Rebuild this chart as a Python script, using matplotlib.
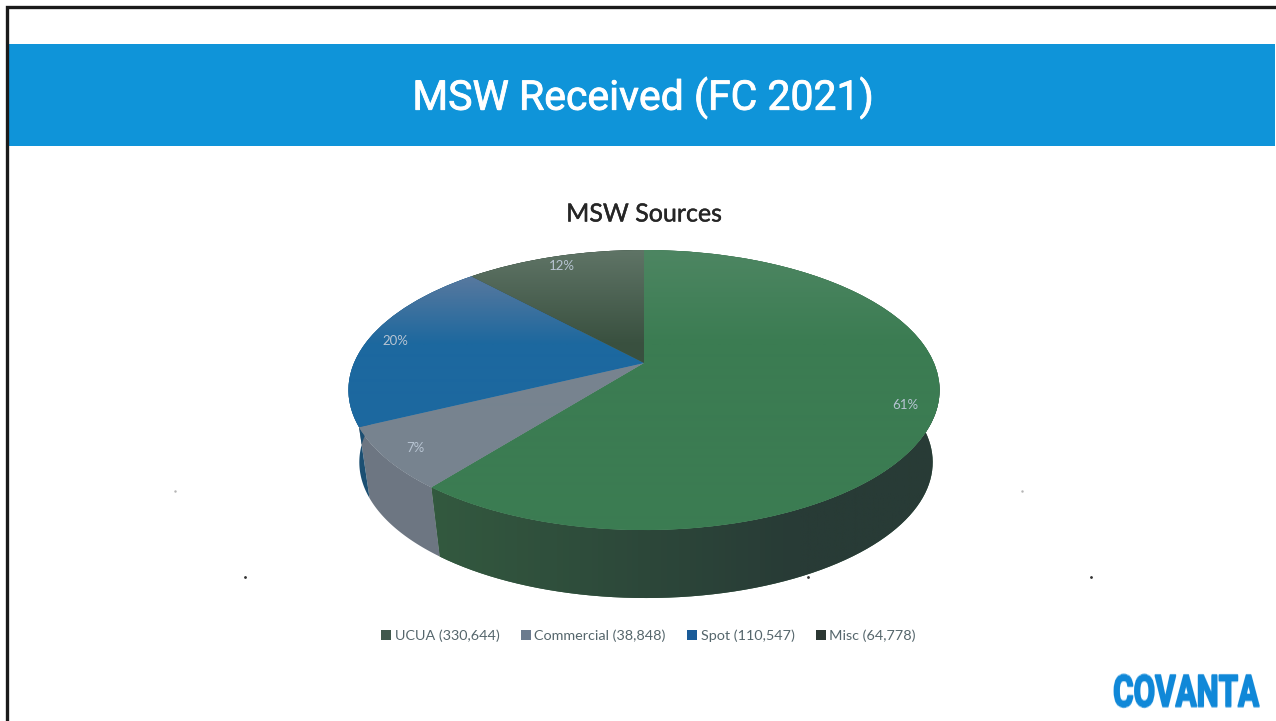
import numpy as np
import matplotlib
matplotlib.use('Agg')
import matplotlib.pyplot as plt
import matplotlib.patheffects as pe
from matplotlib.colors import to_rgb
from matplotlib.patches import Polygon, Rectangle
from matplotlib.transforms import Transform

# data
sources = ['UCUA', 'Commercial', 'Spot', 'Misc']
tons = [330644, 38848, 110547, 64778]

title = 'MSW Received (FC 2021)'
chart_title = 'MSW Sources'
logo = 'COVANTA'

# colours
top_colors = ['#3b7c52', '#77838f', '#1c689f', '#39503f']
top_fade = ['#4d8662', '#8a93a0', '#6f7f9e', '#5f7466']
wall_left = ['#33593f', '#6d7682', '#1c4f72', '#33423a']
wall_right = ['#283b36', '#6b7585', '#1c4f72', '#33423a']
legend_colors = ['#41584d', '#6b7b8e', '#1a5b98', '#2c3833']

# geometry of the tilted pie, in pixels
cx, cy = 644, 363
rx, ry, k = 290, 134.8, 0.193
wall_scale, wall_drop, wall_shift = 0.97, 73, 2


class Tilt(Transform):
    input_dims = 2
    output_dims = 2
    is_separable = False
    has_inverse = False

    def transform_non_affine(self, values):
        values = np.asarray(values, dtype=float)
        s = 1 / (1 + k * values[:, 1])
        return np.column_stack([cx + rx * values[:, 0] * s, cy - ry * values[:, 1] * s])


def rim(theta, lower=False):
    # theta runs clockwise from 12 o'clock
    pts = tilt.transform(np.column_stack([np.sin(theta), np.cos(theta)]))
    if lower:
        pts = np.column_stack([cx + wall_shift + wall_scale * (pts[:, 0] - cx),
                               cy + wall_drop + wall_scale * (pts[:, 1] - cy)])
    return pts


def gradient(c0, c1, horizontal=False, n=64):
    c0, c1 = np.array(to_rgb(c0)), np.array(to_rgb(c1))
    t = np.linspace(0, 1, n)[:, None]
    img = c0 * (1 - t) + c1 * t
    return img[None, :, :] if horizontal else img[:, None, :]


def stretch_tall(img, dpi, factor=1.42):
    # the logo face is condensed, no installed font is, so pull the glyphs upward
    h = img.shape[0]
    new_h = int(h * factor)
    rows = np.linspace(0, h - 1, new_h)
    lo = rows.astype(int)
    hi = np.minimum(lo + 1, h - 1)
    f = (rows - lo)[:, None, None]
    return img[lo] * (1 - f) + img[hi] * f, 0, -(new_h - h) // 2


tilt = Tilt()

plt.rcParams['font.family'] = ['Lato', 'DejaVu Sans']
fig = plt.figure(figsize=(12.76, 7.21), dpi=100)
ax = fig.add_axes([0, 0, 1, 1])

wedges, _, autotexts = ax.pie(tons, startangle=90, counterclock=False, colors=top_colors,
                              autopct='%.0f%%', pctdistance=0.9, labeldistance=None,
                              wedgeprops=dict(linewidth=0, zorder=4),
                              textprops=dict(fontsize=9.5, color='#b7c4d2', zorder=6))
ax.set_aspect('auto')

# top of the pie, shaded towards the back
for w, c0, c1 in zip(wedges, top_fade, top_colors):
    w.set_transform(tilt + ax.transData)
    im = ax.imshow(gradient(c0, c1), extent=[340, 950, 345, 250], aspect='auto', zorder=4.5)
    im.set_clip_path(w)
    im2 = ax.imshow(gradient(c1, c1), extent=[340, 950, 540, 345], aspect='auto', zorder=4.5)
    im2.set_clip_path(w)
for t in autotexts:
    t.set_transform(tilt + ax.transData)

# side wall, drawn under the top
edges = 2 * np.pi * np.cumsum([0] + tons) / np.sum(tons)
for i in range(len(tons)):
    theta = np.linspace(edges[i], edges[i + 1], 120)
    outline = np.vstack([rim(theta), rim(theta, lower=True)[::-1]])
    wall = Polygon(outline, closed=True, facecolor=wall_left[i], edgecolor='none', zorder=2)
    ax.add_patch(wall)
    if i == 1:
        continue
    im = ax.imshow(gradient(wall_left[i], wall_right[i], horizontal=True),
                   extent=[430, 800, 610, 380], aspect='auto', zorder=3)
    im.set_clip_path(wall)
    im = ax.imshow(gradient(wall_right[i], wall_right[i], horizontal=True),
                   extent=[800, 950, 610, 380], aspect='auto', zorder=3)
    im.set_clip_path(wall)

# banner and scan frame
ax.add_patch(Rectangle((8, 44), 1267, 102, facecolor='#0f94d9', edgecolor='none', zorder=1))
ax.plot([6.5, 6.5, 1276], [721, 6.5, 6.5], color='#1a1a1a', lw=2.4, zorder=7,
        solid_joinstyle='miter')
ax.text(643, 98, title, color='white', fontsize=29.5, family=['Roboto', 'DejaVu Sans'],
        ha='center', va='center', zorder=7,
        path_effects=[pe.withStroke(linewidth=0.6, foreground='white')])
ax.text(644, 214, chart_title, color='#262626', fontsize=18, ha='center', va='center', zorder=7,
        path_effects=[pe.withStroke(linewidth=0.3, foreground='#262626')])

# logo
ax.text(1186, 693, logo, color='#1088d8', fontsize=22.5, fontweight='bold',
        family=['Roboto', 'DejaVu Sans'], ha='center', va='center', zorder=7,
        path_effects=[pe.withStroke(linewidth=1.2, foreground='#1088d8')],
        agg_filter=stretch_tall)

# specks from the scan
ax.plot([245, 808, 1091], [577, 577, 577], ls='none', marker='.', ms=2, color='#333333', zorder=7)
ax.plot([175, 1022], [491, 491], ls='none', marker='.', ms=1.5, color='#b5b5b5', zorder=7)

labels = [f'{s} ({v:,})' for s, v in zip(sources, tons)]
leg = ax.legend(wedges, labels, ncol=4, loc='center', frameon=False,
                bbox_to_anchor=(648.5 / 1276, 1 - 636 / 721),
                fontsize=10.4, labelcolor='#55666c', handlelength=0.7, handleheight=0.7,
                handletextpad=0.25, columnspacing=1.46)
for h, c in zip(leg.legend_handles, legend_colors):
    h.set_facecolor(c)

ax.set_xlim(0, 1276)
ax.set_ylim(721, 0)
ax.axis('off')
fig.savefig('out.png', dpi=100, facecolor='white')
